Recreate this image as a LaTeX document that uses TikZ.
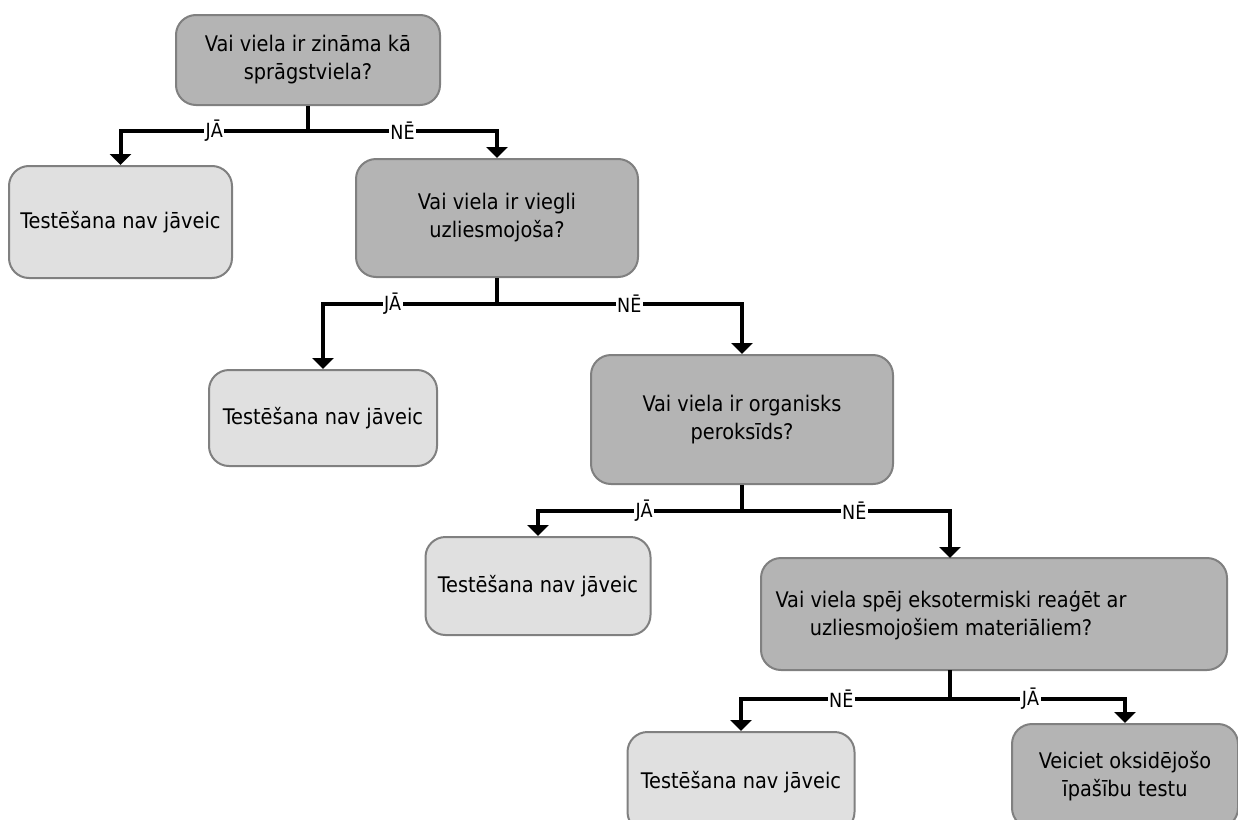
\documentclass[tikz,border=0pt]{standalone}
\usepackage{fontspec}
\setmainfont{DejaVu Sans Condensed}
\usetikzlibrary{arrows.meta}
\definecolor{qfill}{HTML}{B4B4B4}
\definecolor{afill}{HTML}{E0E0E0}
\definecolor{edge}{HTML}{808080}
\tikzset{
  boxtext/.style={align=center, font=\fontsize{21.5}{28}\selectfont, inner sep=0pt},
  box/.style={boxtext, draw=edge, line width=2pt, rounded corners=20pt},
  question/.style={box, fill=qfill},
  answer/.style={box, fill=afill},
  link/.style={line width=4pt, black},
  flow/.style={link, -{Triangle[width=21pt,length=11pt]}},
  lbl/.style={fill=white, inner sep=1.5pt, font=\fontsize{19.5}{19.5}\selectfont}
}
\begin{document}
\begin{tikzpicture}[x=1pt,y=-1pt]
\useasboundingbox (0,0) rectangle (1238,819);
\clip (0,0) rectangle (1238,819);
\fill[white] (0,0) rectangle (1238,819);

% decision and result boxes
\node[question, minimum width=264pt, minimum height=90pt] (q1) at (308,60)
  {Vai viela ir zināma kā\\sprāgstviela?};
\node[answer, minimum width=223pt, minimum height=112pt] (n1) at (120.5,222)
  {Testēšana nav jāveic};
\node[question, minimum width=282pt, minimum height=118pt] (q2) at (497,218)
  {Vai viela ir viegli\\uzliesmojoša?};
\node[answer, minimum width=228pt, minimum height=96pt] (n2) at (323,418)
  {Testēšana nav jāveic};
\node[question, minimum width=302pt, minimum height=129pt] (q3) at (742,419.5)
  {Vai viela ir organisks\\peroksīds?};
\node[answer, minimum width=225pt, minimum height=98pt] (n3) at (538,586)
  {Testēšana nav jāveic};
% the last question box is wider on the right; its text sits over the branch line
\node[question, minimum width=466pt, minimum height=112pt] (q4) at (994,614) {};
\node[boxtext] (q4t) at (951,615)
  {Vai viela spēj eksotermiski reaģēt ar\\uzliesmojošiem materiāliem?};
\node[answer, minimum width=227pt, minimum height=100pt] (n4) at (741,782)
  {Testēšana nav jāveic};
\node[question, minimum width=226pt, minimum height=104pt] (fin) at (1125,776)
  {Veiciet oksidējošo\\īpašību testu};

% branch points
\coordinate (j1) at (308,131);
\coordinate (j2) at (497,304);
\coordinate (j3) at (742,511);
\coordinate (j4) at (950,699);
\coordinate (q4in) at (950,558);
\coordinate (q4out) at (950,670);

% connectors
\draw[link] (q1.south) -- (j1);
\draw[flow] (j1) -| (n1.north) node[lbl, pos=0.25] {JĀ};
\draw[flow] (j1) -| (q2.north) node[lbl, pos=0.25] {NĒ};

\draw[link] (q2.south) -- (j2);
\draw[flow] (j2) -| (n2.north) node[lbl, pos=0.3] {JĀ};
\draw[flow] (j2) -| (q3.north) node[lbl, pos=0.27] {NĒ};

\draw[link] (q3.south) -- (j3);
\draw[flow] (j3) -| (n3.north) node[lbl, pos=0.24] {JĀ};
\draw[flow] (j3) -| (q4in) node[lbl, pos=0.27] {NĒ};

\draw[link] (q4out) -- (j4);
\draw[flow] (j4) -| (n4.north) node[lbl, pos=0.26] {NĒ};
\draw[flow] (j4) -| (fin.north) node[lbl, pos=0.23] {JĀ};
\end{tikzpicture}
\end{document}
